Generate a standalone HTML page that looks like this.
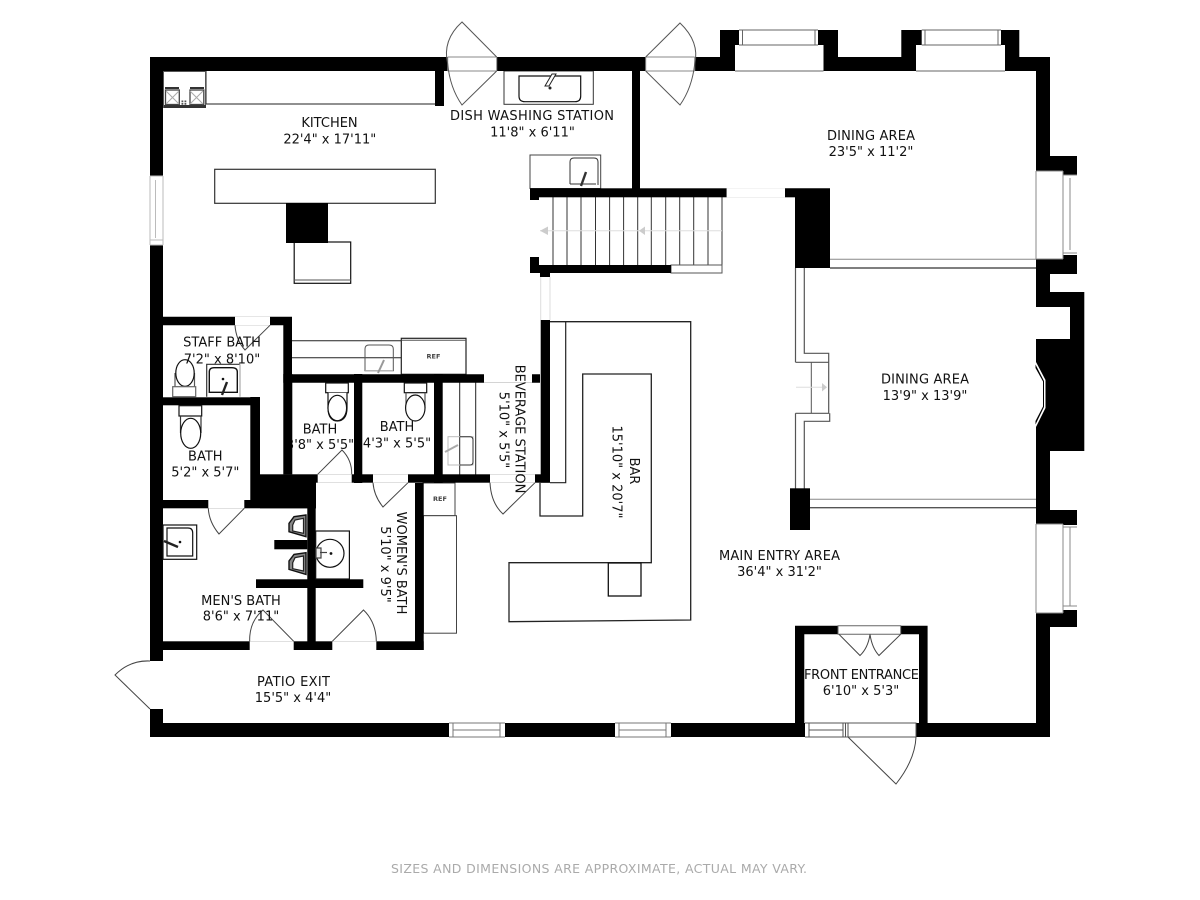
<!DOCTYPE html>
<html><head><meta charset="utf-8"><style>
html,body{margin:0;padding:0;background:#fff}
svg{display:block}
text{font-family:"DejaVu Sans",sans-serif;font-size:13px;fill:#111;text-anchor:middle}
</style></head><body>
<svg width="1200" height="900" viewBox="0 0 1200 900" xmlns="http://www.w3.org/2000/svg">
<rect width="1200" height="900" fill="#fff"/>

<!-- fixtures (thin lines) -->
<g fill="#fff" stroke="#333" stroke-width="1">
<!-- kitchen counter -->
<path d="M206 71V104H435" fill="none" stroke="#222"/>
<rect x="214.7" y="169.3" width="220.6" height="34" stroke="#333" stroke-width="1.2"/>
<rect x="294.2" y="242" width="56.5" height="41.3" stroke="#111" stroke-width="1.2"/>
<path d="M294 280H351" stroke="#555"/>
<!-- dish sink -->
<rect x="504" y="71" width="89.3" height="33.3"/>
<path d="M519 76H580.7V96Q580.7 101.7 575 101.7H525Q519 101.7 519 96Z" stroke="#111" stroke-width="1.2"/>
<path d="M545 86L552 74H556L549 86Z" stroke="#222"/>
<circle cx="550" cy="88" r="1.5" fill="#222" stroke="none"/>
<rect x="530" y="155" width="70.7" height="33.5" stroke="#444"/>
<path d="M570 184V162Q570 158 574 158H594Q598 158 598 162V185M570 184H596" fill="none" stroke="#333"/>
<path d="M581 186L586 172" stroke="#333" stroke-width="2.4"/>
<!-- ref / counters near staff -->
<path d="M292 340.7H401.3M292 357.7H401.3" stroke="#222" fill="none"/>
<rect x="401.3" y="338.3" width="64.7" height="36" stroke="#222" stroke-width="1.2"/>
<path d="M401.5 340.3H466" fill="none" stroke="#555"/>
<path d="M365 370.7V349Q365 345 369 345H389Q393.3 345 393.3 349V370.7Z" fill="none" stroke="#555"/>
<path d="M365 370.7H393" stroke="#bbb" fill="none"/>
<path d="M378 373L384 360" stroke="#999" stroke-width="2" fill="none"/>
<!-- bev counter -->
<path d="M459.7 382V475M475.7 382V475" fill="none" stroke="#222"/>
<rect x="448" y="436.7" width="25" height="28.3" fill="none" stroke="#bbb"/>
<path d="M460 436.7H470Q473 436.7 473 440V462Q473 465 470 465H460" fill="none" stroke="#333"/>
<path d="M445 452L458 445" stroke="#aaa" stroke-width="2"/>
<!-- refs -->
<rect x="423" y="483" width="32" height="32.7" stroke="#444"/>
<rect x="423.5" y="515.7" width="33" height="117.5" stroke="#444"/>
<!-- bar -->
<path d="M550 321.7H690.7V620L509 621.7V562.7H651.3V374H582.7V516H540V482.7" fill="#fff" stroke="#222" stroke-width="1.3"/>
<path d="M565.7 321.7V482.7H550" fill="none" stroke="#222" stroke-width="1.2"/>
<rect x="608.3" y="563" width="32.7" height="33" stroke="#111" stroke-width="1.3"/>
<!-- stairs -->
<path d="M553 197V265M567 197V265M581 197V265M595.5 197V265M609.6 197V265M623.6 197V265M637.7 197V265M651.3 197V265M665.7 197V265M679.7 197V265M693.7 197V265M708 197V265M722 197V272" fill="none" stroke="#333"/>
<path d="M722 230.7H540" stroke="#ddd" fill="none"/>
<path d="M540 230.7L548 226.5V235Z M639 230.7L645 226.5V235Z" fill="#ccc" stroke="none"/>
<rect x="671" y="265" width="51" height="8" stroke="#555"/>
<path d="M726.7 188.5H785M726.7 197.2H795" fill="none" stroke="#ddd"/>
<path d="M540.7 277V320M550 277V320" fill="none" stroke="#ddd"/>
<path d="M484 382.5H532" fill="none" stroke="#ddd"/>
<!-- dining partitions -->
<path d="M830 259.3H1036" fill="none" stroke="#888"/>
<path d="M830 268H1036" fill="none" stroke="#555" stroke-width="1.4"/>
<path d="M810 499.3H1036" fill="none" stroke="#888"/>
<path d="M810 507.7H1036" fill="none" stroke="#555" stroke-width="1.4"/>
<path d="M795.5 268V362.3M795.5 413.3V489M804.3 268V353.3H828.7V413.3H795.5M804.3 489V421.3H829.7V413.3M795.5 362.3H828.7" fill="none" stroke="#555" stroke-width="1.2"/>
<path d="M811.3 362.3V413.3" fill="none" stroke="#555"/>
<path d="M796 387.3H825" stroke="#ddd" fill="none"/>
<path d="M827 387.3L822 383V391.5Z" fill="#ccc" stroke="none"/>
</g>

<!-- labels beneath walls -->
<text x="329.5" y="127">KITCHEN</text>
<text x="329.8" y="143.5">22'4" x 17'11"</text>
<text x="532" y="120" textLength="164">DISH WASHING STATION</text>
<text x="532.5" y="136.5">11'8" x 6'11"</text>
<text x="871" y="140" textLength="88">DINING AREA</text>
<text x="871" y="156">23'5" x 11'2"</text>
<text x="925" y="383.3" textLength="88">DINING AREA</text>
<text x="925" y="400">13'9" x 13'9"</text>
<text x="779.5" y="560" textLength="121">MAIN ENTRY AREA</text>
<text x="779.5" y="576">36'4" x 31'2"</text>
<text x="320" y="433.3">BATH</text>
<text x="320" y="449">3'8" x 5'5"</text>
<text x="397" y="431">BATH</text>
<text x="397" y="447.7">4'3" x 5'5"</text>

<!-- walls -->
<g fill="#000">
<path d="M150 57H720V30H838V57H901.3V30H1019.3V57H1050V156H1077V274H1050V292H1084.3V451H1050V510H1077V627H1050V737H150Z M163 71V723H1036V71Z" fill-rule="evenodd"/>
<!-- right side inner thickening -->
<rect x="1036" y="156" width="14" height="118"/>
<rect x="1036" y="292" width="48" height="159"/>
<rect x="1036" y="510" width="14" height="117"/>
<rect x="1036" y="274" width="14" height="18"/>
<rect x="1036" y="451" width="14" height="59"/>
<rect x="1036" y="339" width="14" height="13"/>
<!-- kitchen -->
<rect x="435" y="71" width="9" height="35"/>
<rect x="286" y="203" width="42" height="40"/>
<rect x="632" y="71" width="8" height="118"/>
<rect x="530" y="188.3" width="196.7" height="9"/>
<rect x="530" y="197" width="9" height="3"/>
<path d="M785 188.3H830V268H795V197.3H785Z"/>
<rect x="530" y="257" width="9" height="16"/>
<rect x="530" y="265" width="141" height="8"/>
<rect x="540" y="272" width="10" height="5"/>
<!-- staff bath -->
<path d="M163 316.7H292V374.3H540V382.7H283.3V325.3H163Z"/>
<rect x="283.3" y="374" width="9" height="100.4"/>
<rect x="163" y="397.3" width="97" height="8"/>
<rect x="250.3" y="397" width="9.7" height="103"/>
<rect x="163" y="500" width="153" height="8.3"/>
<rect x="260" y="474.3" width="56" height="34"/>
<rect x="316" y="474.3" width="234" height="8.4"/>
<rect x="354" y="374" width="8.3" height="109"/>
<rect x="434" y="374" width="8.7" height="109"/>
<rect x="540.7" y="320" width="9.3" height="162.7"/>
<!-- men's / women's -->
<rect x="307.3" y="483" width="8.4" height="167"/>
<rect x="415" y="483" width="8.7" height="167"/>
<rect x="163" y="641.3" width="260.7" height="8.7"/>
<rect x="274.3" y="540" width="33" height="9.3"/>
<rect x="256" y="579.3" width="107.3" height="8.7"/>
<!-- front entrance -->
<path d="M795 625.7H927.6V737H795Z M804.3 634.3V723H919V634.3Z" fill-rule="evenodd"/>
<!-- post -->
<rect x="790" y="488.3" width="20" height="41.7"/>
</g>

<!-- openings -->
<g fill="#fff">
<rect x="735" y="45" width="88.5" height="26.5"/>
<rect x="916" y="45" width="89" height="26.5"/>
<rect x="739" y="30" width="79" height="15"/>
<rect x="921.7" y="30" width="79.3" height="15"/>
<rect x="1036" y="171" width="27" height="88"/>
<rect x="1063" y="175" width="14" height="80"/>
<rect x="1036" y="307" width="34" height="32"/>
<rect x="1036" y="524" width="27" height="89"/>
<rect x="1063" y="525" width="14" height="85"/>
<rect x="150" y="176" width="13" height="69"/>
<rect x="150" y="661" width="13" height="48"/>
<rect x="447.7" y="57" width="49" height="14"/>
<rect x="645.7" y="57" width="49" height="14"/>
<rect x="449" y="723" width="56" height="14"/>
<rect x="615" y="723" width="56" height="14"/>
<rect x="805" y="723" width="111" height="14"/>
<rect x="235" y="316.7" width="35" height="8.6"/>
<rect x="208.3" y="500" width="36" height="8.3"/>
<rect x="317.7" y="474.3" width="34" height="8.4"/>
<rect x="373" y="474.3" width="35" height="8.4"/>
<rect x="490" y="474.3" width="45" height="8.4"/>
<rect x="249.7" y="641.3" width="44" height="8.7"/>
<rect x="332.3" y="641.3" width="44" height="8.7"/>
<rect x="838" y="625.7" width="62.7" height="8.6"/>
<rect x="484" y="374" width="48" height="8.7"/>
<rect x="726.7" y="188.3" width="58.3" height="9"/>
</g>

<!-- window & door detail -->
<g fill="none" stroke="#666" stroke-width="1">
<path d="M739 30H818M739 45H818M742.5 30V45M815 30V45M735 71H823.5" />
<path d="M921.7 30H1001M921.7 45H1001M925 30V45M998 30V45M916 71H1005"/>
<path d="M1036 171V259M1063 171V259M1036 171H1063M1036 259H1063M1063 175H1077M1063 253H1077M1070 178V250" stroke="#888"/>
<path d="M1036 524V613M1063 524V613M1036 524H1063M1036 613H1063M1063 527H1077M1063 606H1077M1070 527V606" stroke="#888"/>
<path d="M150 176H163M150 245H163M150 240H163M155.5 180V238M150 176V245M163 176V245" stroke="#bbb"/>
<path d="M449 723H505M449 737H505M453 723V737M500 723V737M453 730H500" stroke="#777"/>
<path d="M615 723H671M615 737H671M619 723V737M666 723V737M619 730H666" stroke="#777"/>
<path d="M805 723H848M805 737H848M809 723V737M843 723V737M845.5 723V737M848 723V737M809 730H843" stroke="#555"/>
<path d="M848 723H916V737H848Z" stroke="#555"/>
<path d="M838 625.7H900.7V634.3H838Z" stroke="#666"/>
<!-- door swings -->
<path d="M447.7 57V71M496.7 57V71M447.7 57H496.7M447.7 71H496.7" stroke="#888"/>
<path d="M645.7 57V71M694.7 57V71M645.7 57H694.7M645.7 71H694.7" stroke="#888"/>
<path d="M496.7 57L462 22Q442 40 447.7 64Q450 88 462 105L496.7 71" stroke="#555"/>
<path d="M645.7 57L680 23Q700 42 694.7 64Q692 88 680 105L645.7 71" stroke="#555"/>
<path d="M150 709L115 675Q130 660 150 661" stroke="#444"/>
<path d="M270 325.3L245 350Q236 340 235 325.3" stroke="#444"/>
<path d="M244.3 508.3L219 534Q209 522 208.3 508.3" stroke="#444"/>
<path d="M317.7 474.3L342 450Q352 460 351.7 474.3" stroke="#444"/>
<path d="M408 482.7L383 507Q374 496 373 482.7" stroke="#444"/>
<path d="M535 482.7L503 514Q491 503 490 482.7" stroke="#444"/>
<path d="M293.7 641.3L263 610Q249 622 249.7 641.3" stroke="#444"/>
<path d="M332.3 641.3L363.5 610Q376 622 376.3 641.3" stroke="#444"/>
<path d="M848 737L896 784Q915 760 916 737" stroke="#444"/>
<path d="M839 634.3L860 655.5Q868 648 870 634.3Q872 648 879 655.5L900.7 634.3" stroke="#444"/>
</g>

<!-- fireplace notch: white band, dark line, room -->
<path d="M1035.5 361L1045.5 380V408L1035.5 428Z" fill="#fff"/>
<path d="M1035.5 364.5L1044 381V407L1035.5 424.5Z" fill="#000"/>
<path d="M1035.5 368L1043 381.5V406.5L1035.5 421Z" fill="#fff"/>

<!-- stove -->
<g>
<rect x="163.5" y="71.5" width="42" height="36" fill="#fff" stroke="#555"/>
<rect x="164" y="105" width="42" height="3" fill="#333"/>
<rect x="165" y="87" width="14" height="2" fill="#333"/>
<rect x="190" y="87" width="14" height="2" fill="#333"/>
<rect x="165.5" y="90" width="13.8" height="14.5" fill="#fff" stroke="#444" stroke-width="1.3"/>
<rect x="190" y="90" width="13.8" height="14.5" fill="#fff" stroke="#444" stroke-width="1.3"/>
<path d="M166 91L179 104M179 91L166 104M190 91L203 104M203 91L190 104" stroke="#aaa" stroke-width="1"/>
<path d="M181.5 100.5h1.8v1.8h-1.8zM184.5 100.5h1.8v1.8h-1.8zM181.5 103h1.8v1.8h-1.8zM184.5 103h1.8v1.8h-1.8z" fill="#555"/>
</g>

<!-- toilets -->
<g fill="#fff" stroke="#111" stroke-width="1.2">
<path d="M175 373V387M194.5 373V387" stroke="#555" fill="none"/>
<ellipse cx="185" cy="373" rx="9.2" ry="13.3"/>
<rect x="172.7" y="386.7" width="23" height="10" stroke="#666"/>
<rect x="179" y="405.7" width="22.7" height="10.3"/>
<path d="M180.5 416V433M201 416V433" stroke="#333" fill="none"/>
<ellipse cx="190.7" cy="433.3" rx="10" ry="15"/>
<rect x="325.7" y="383" width="22.6" height="9.7"/>
<path d="M328 392.7V408C328 417 332 421 337.3 421C343 421 347 417 347 408V392.7"/>
<ellipse cx="337.3" cy="408" rx="9.3" ry="12.7"/>
<rect x="404.3" y="383" width="22.4" height="9.7"/>
<path d="M406 392.7V408M425 392.7V408" stroke="#555" fill="none"/>
<ellipse cx="415.3" cy="408" rx="9.7" ry="13"/>
<!-- staff sink -->
<path d="M206.7 396.7V364.3H240" fill="#fff" stroke="#333"/>
<path d="M240 364.3V396.7" stroke="#bbb" fill="none" stroke-width="1.5"/>
<path d="M209.3 392.3V372Q209.3 367.7 214 367.7H232Q237.3 367.7 237.3 372V392.3Z" stroke-width="1.4"/>
<path d="M222 395L227 382" stroke="#222" stroke-width="2.4" fill="none"/>
<circle cx="223" cy="379" r="1.3" fill="#111" stroke="none"/>
<!-- men's sink -->
<rect x="163" y="525" width="33.7" height="34.3"/>
<path d="M167 528H188Q192.7 528 192.7 533V556H167Z"/>
<path d="M164 541L178 547" stroke="#222" stroke-width="2.4" fill="none"/>
<circle cx="180" cy="542" r="1.3" fill="#111" stroke="none"/>
<!-- urinals -->
<path d="M306 515L294 516.7L289 523.3V531.7L306 536.7Z" fill="#888" stroke="#111" stroke-width="1.4"/>
<path d="M303.5 518.3L295 520L292.7 525V531L303.5 533.3Z" fill="#fff" stroke="#222"/>
<path d="M306 552.7L294 554.4L289 561V569.4L306 574.4Z" fill="#888" stroke="#111" stroke-width="1.4"/>
<path d="M303.5 556L295 557.7L292.7 562.7V568.7L303.5 571Z" fill="#fff" stroke="#222"/>
<!-- women's sink -->
<rect x="315.7" y="531" width="33.7" height="48"/>
<circle cx="330" cy="553.3" r="14"/>
<path d="M316 548H321V558H316Z" fill="#eee" stroke="#444"/>
<path d="M320 552.5H327" stroke="#444" fill="none"/>
<circle cx="331" cy="553.5" r=".8" fill="#111"/>
</g>

<!-- upper labels -->
<text x="222" y="346.7">STAFF BATH</text>
<text x="222" y="363.3">7'2" x 8'10"</text>
<text x="205.3" y="460.7">BATH</text>
<text x="205.3" y="476.7">5'2" x 5'7"</text>
<text x="241" y="605">MEN'S BATH</text>
<text x="241" y="620.7">8'6" x 7'11"</text>
<text x="293.5" y="686" textLength="73">PATIO EXIT</text>
<text x="293" y="702">15'5" x 4'4"</text>
<text x="861.5" y="679" textLength="115">FRONT ENTRANCE</text>
<text x="861" y="695">6'10" x 5'3"</text>
<text transform="translate(397.2 563) rotate(90)">WOMEN'S BATH</text>
<text transform="translate(381.2 564.5) rotate(90)">5'10" x 9'5"</text>
<text transform="translate(515.5 429) rotate(90)">BEVERAGE STATION</text>
<text transform="translate(499.5 430) rotate(90)">5'10" x 5'5"</text>
<text transform="translate(629.8 471) rotate(90)">BAR</text>
<text transform="translate(612.5 472) rotate(90)">15'10" x 20'7"</text>
<text x="433.5" y="358.5" style="font-size:6.5px;font-weight:bold;fill:#444">REF</text>
<text x="440" y="501" style="font-size:6.5px;font-weight:bold;fill:#444">REF</text>
<text x="599" y="873" textLength="416" style="fill:#aaa;font-size:12.5px">SIZES AND DIMENSIONS ARE APPROXIMATE, ACTUAL MAY VARY.</text>
</svg>
</body></html>
